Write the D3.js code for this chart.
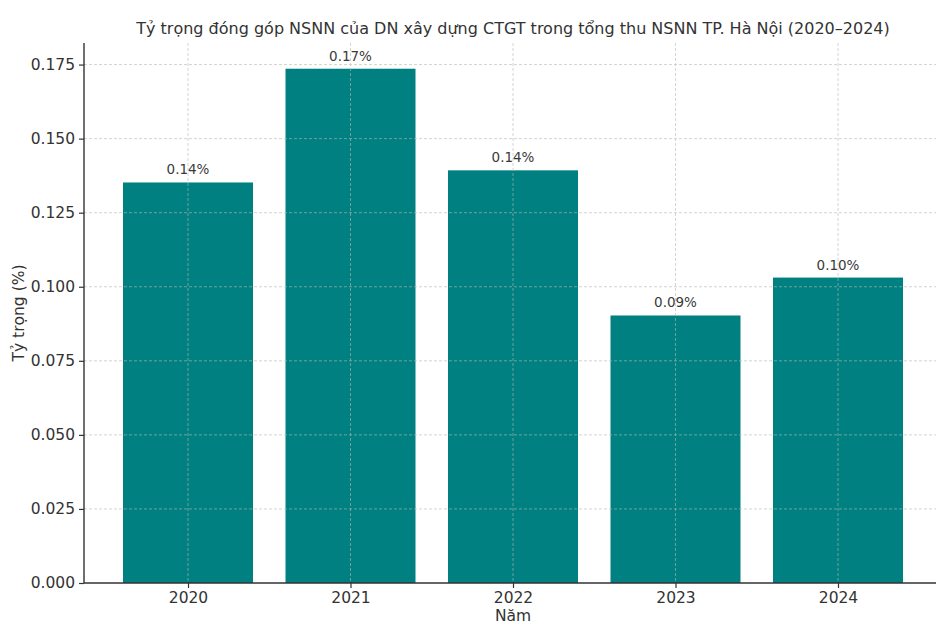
<!DOCTYPE html>
<html>
<head>
<meta charset="utf-8">
<script src="https://cdn.jsdelivr.net/npm/d3@7"></script>
<style>
  html, body { margin: 0; padding: 0; background: #fff; }
  svg { display: block; font-family: "DejaVu Sans", sans-serif; }
</style>
</head>
<body>
<svg id="chart" width="936" height="627"></svg>
<script>
// Share of construction/transport-infrastructure firms in Hanoi's budget revenue
const years = ["2020", "2021", "2022", "2023", "2024"];
const shares = [0.1352, 0.1736, 0.1393, 0.0903, 0.1031];
const yTicks = [0, 0.025, 0.05, 0.075, 0.1, 0.125, 0.15, 0.175];

const titleText = "Tỷ trọng đóng góp NSNN của DN xây dựng CTGT trong tổng thu NSNN TP. Hà Nội (2020–2024)";
const xLabel = "Năm";
const yLabel = "Tỷ trọng (%)";

const svg = d3.select("#chart");
const margin = { top: 43, left: 84, bottom: 44 };
const plotW = 858;
const plotH = 627 - margin.top - margin.bottom;

const textColor = "#333";
const barColor = "#008080";

// Category axis with matplotlib-like padding: bar width 0.8 of a step, 5% margin
const step = plotW / 5.28;
const x = d => margin.left + (0.64 + years.indexOf(d)) * step;
const barW = 0.8 * step;

const yMax = d3.max(shares) * 1.05;
const y = d3.scaleLinear().domain([0, yMax]).range([margin.top + plotH, margin.top]);

const g = svg.append("g");

// Bars
g.selectAll("rect.bar")
  .data(years)
  .join("rect")
  .attr("class", "bar")
  .attr("x", d => x(d) - barW / 2)
  .attr("width", barW)
  .attr("y", (d, i) => y(shares[i]))
  .attr("height", (d, i) => y(0) - y(shares[i]))
  .attr("fill", barColor);

// Dashed grid drawn above the bars
const grid = g.append("g").attr("stroke", "#b8b8b8").attr("stroke-width", 0.8)
  .attr("stroke-dasharray", "3,2").attr("opacity", 0.75);
grid.selectAll("line.h")
  .data(yTicks.slice(1))
  .join("line")
  .attr("x1", margin.left).attr("x2", margin.left + plotW)
  .attr("y1", d => y(d)).attr("y2", d => y(d));
grid.selectAll("line.v")
  .data(years)
  .join("line")
  .attr("x1", d => x(d)).attr("x2", d => x(d))
  .attr("y1", margin.top).attr("y2", y(0));

// Value labels
g.selectAll("text.val")
  .data(years)
  .join("text")
  .attr("class", "val")
  .attr("x", d => x(d))
  .attr("y", (d, i) => y(shares[i]) - 8)
  .attr("text-anchor", "middle")
  .attr("font-size", 13.5)
  .attr("fill", "#3a3a3a")
  .text((d, i) => shares[i].toFixed(2) + "%");

// Y axis
const yAxis = d3.axisLeft(y).tickValues(yTicks).tickFormat(d3.format(".3f")).tickSize(5).tickPadding(4);
const yg = svg.append("g").attr("transform", `translate(${margin.left},0)`).call(yAxis);
yg.select(".domain").attr("stroke", "#333").attr("stroke-width", 1.4).attr("d", `M0,${margin.top}V${y(0)}`);
yg.selectAll(".tick line").attr("stroke", "#333").attr("stroke-width", 1.2);
yg.selectAll(".tick text").attr("font-size", 15.5).attr("fill", textColor).attr("font-family", "DejaVu Sans");

// X axis
const xAxis = d3.axisBottom(d3.scalePoint().domain(years).range([x(years[0]), x(years[4])]))
  .tickSize(5).tickPadding(4);
const xg = svg.append("g").attr("transform", `translate(0,${y(0)})`).call(xAxis);
xg.select(".domain").attr("stroke", "#333").attr("stroke-width", 1.4).attr("d", `M${margin.left},0H${margin.left + plotW}`);
xg.selectAll(".tick line").attr("stroke", "#333").attr("stroke-width", 1.2);
xg.selectAll(".tick text").attr("font-size", 15.5).attr("fill", textColor).attr("font-family", "DejaVu Sans");

// Titles
const cx = margin.left + plotW / 2;
svg.append("text").attr("x", cx).attr("y", 34).attr("text-anchor", "middle")
  .attr("font-size", 16).attr("fill", textColor).text(titleText);
svg.append("text").attr("x", cx).attr("y", 621).attr("text-anchor", "middle")
  .attr("font-size", 15.5).attr("fill", textColor).text(xLabel);
svg.append("text").attr("transform", `translate(24,${margin.top + plotH / 2}) rotate(-90)`)
  .attr("text-anchor", "middle").attr("font-size", 15.5).attr("fill", textColor).text(yLabel);
</script>
</body>
</html>
